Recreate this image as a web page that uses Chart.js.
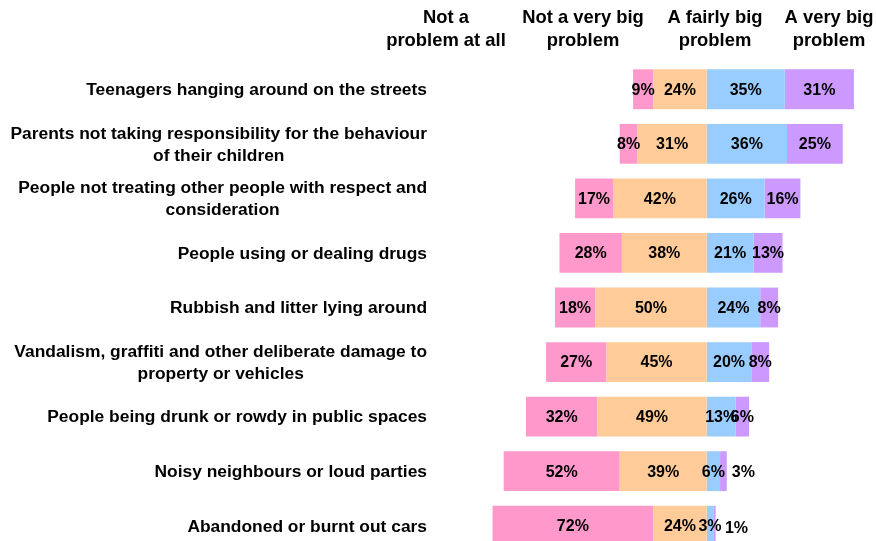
<!DOCTYPE html>
<html lang="en">
<head>
    <meta charset="UTF-8">
    <title>Problems in the local area</title>
    <script src="https://cdn.jsdelivr.net/npm/chart.js"></script>
    <style>
        body { margin: 0; overflow: hidden; background: #fff; }
        #wrap { width: 876px; height: 560px; }
    </style>
</head>
<body>
    <div id="wrap"><canvas id="problemChart"></canvas></div>

    <script>
        const categories = [
            ['Teenagers hanging around on the streets'],
            ['Parents not taking responsibility for the behaviour', 'of their children'],
            ['People not treating other people with respect and', 'consideration'],
            ['People using or dealing drugs'],
            ['Rubbish and litter lying around'],
            ['Vandalism, graffiti and other deliberate damage to', 'property or vehicles'],
            ['People being drunk or rowdy in public spaces'],
            ['Noisy neighbours or loud parties'],
            ['Abandoned or burnt out cars']
        ];
        const seriesNames = [
            ['Not a', 'problem at all'],
            ['Not a very big', 'problem'],
            ['A fairly big', 'problem'],
            ['A very big', 'problem']
        ];
        const notAtAll   = [9, 8, 17, 28, 18, 27, 32, 52, 72];
        const notVeryBig = [24, 31, 42, 38, 50, 45, 49, 39, 24];
        const fairlyBig  = [35, 36, 26, 21, 24, 20, 13, 6, 3];
        const veryBig    = [31, 25, 16, 13, 8, 8, 6, 3, 1];

        const FONT = '"Liberation Sans", Arial, sans-serif';

        // header captions above the columns (centre x of each)
        const headerX = [446, 583, 715, 829];

        // segment labels that sit off the bar because the bar is too thin
        const labelNudge = { '3-7': [20, 0], '3-8': [22, 2] };

        const textPlugin = {
            id: 'textPlugin',
            afterDatasetsDraw(chart) {
                const ctx = chart.ctx;
                const yScale = chart.scales.y;
                ctx.save();
                ctx.fillStyle = '#000';
                ctx.textBaseline = 'middle';

                // values inside the bars
                ctx.font = 'bold 16px ' + FONT;
                ctx.textAlign = 'center';
                chart.data.datasets.forEach((ds, di) => {
                    const meta = chart.getDatasetMeta(di);
                    meta.data.forEach((bar, i) => {
                        const nudge = labelNudge[ds.key + '-' + i] || [0, 0];
                        const cx = (bar.x + bar.base) / 2 + nudge[0];
                        ctx.fillText(Math.abs(ds.data[i]) + '%', cx, bar.y + 1 + nudge[1]);
                    });
                });

                // category labels, right-aligned block with centred lines
                ctx.font = 'bold 17.4px ' + FONT;
                const rightEdge = chart.chartArea.left - 12;
                categories.forEach((lines, i) => {
                    const y = yScale.getPixelForValue(i);
                    const w = Math.max(...lines.map(l => ctx.measureText(l).width));
                    const cx = rightEdge - w / 2;
                    lines.forEach((l, k) => {
                        ctx.fillText(l, cx, y + 1 + (k - (lines.length - 1) / 2) * 22);
                    });
                });

                // column headers
                ctx.font = 'bold 18.4px ' + FONT;
                seriesNames.forEach((lines, i) => {
                    lines.forEach((l, k) => ctx.fillText(l, headerX[i], 18 + k * 23));
                });
                ctx.restore();
            }
        };

        const ctx = document.getElementById('problemChart').getContext('2d');
        new Chart(ctx, {
            type: 'bar',
            data: {
                labels: categories,
                datasets: [
                    { key: 1, label: seriesNames[1].join(' '), data: notVeryBig.map(v => -v), backgroundColor: '#FFCC99' },
                    { key: 0, label: seriesNames[0].join(' '), data: notAtAll.map(v => -v), backgroundColor: '#FF99CC' },
                    { key: 2, label: seriesNames[2].join(' '), data: fairlyBig, backgroundColor: '#99CCFF' },
                    { key: 3, label: seriesNames[3].join(' '), data: veryBig, backgroundColor: '#CC99FF' }
                ]
            },
            options: {
                indexAxis: 'y',
                responsive: true,
                maintainAspectRatio: false,
                animation: false,
                layout: { padding: { left: 439, right: 2, top: 62, bottom: 7 } },
                datasets: { bar: { categoryPercentage: 1, barPercentage: 0.73, borderWidth: 0 } },
                scales: {
                    x: { stacked: true, display: false, min: -120, max: 75 },
                    y: { stacked: true, display: false }
                },
                plugins: {
                    legend: { display: false },
                    tooltip: { enabled: false }
                }
            },
            plugins: [textPlugin]
        });
    </script>
</body>
</html>
